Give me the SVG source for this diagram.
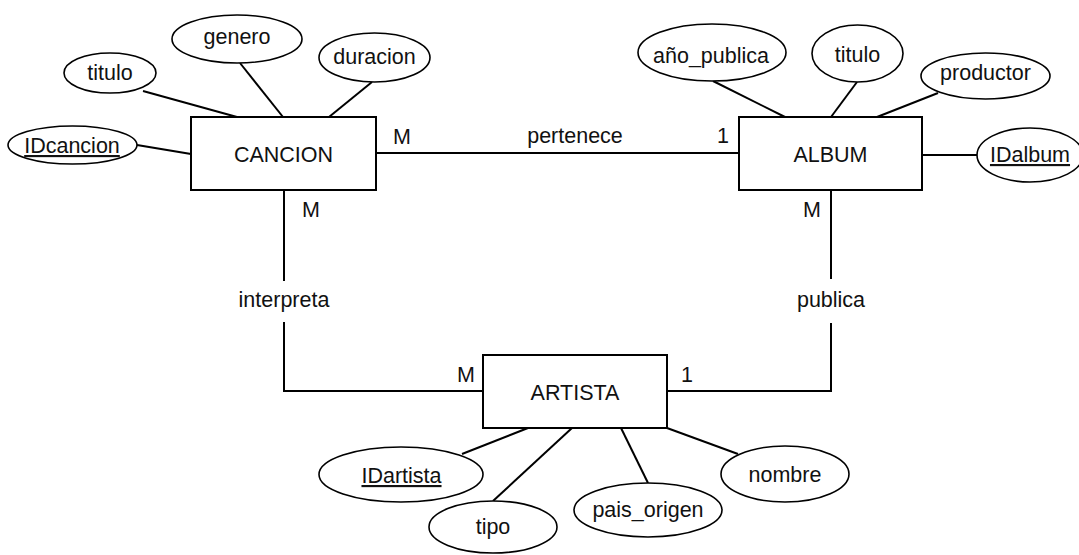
<svg xmlns="http://www.w3.org/2000/svg" width="1079" height="555" viewBox="0 0 1079 555">
  <style>
    .bg { fill: #ffffff; }
    .entity { fill: #ffffff; stroke: #000000; stroke-width: 2; }
    .attr { fill: #ffffff; stroke: #000000; stroke-width: 1.6; }
    .link { fill: none; stroke: #000000; stroke-width: 2; }
    text { font-family: "Liberation Sans", Arial, sans-serif; font-size: 21.5px; fill: #111111; text-anchor: middle; }
    .key { text-decoration: underline; }
    .card { text-anchor: start; }
  </style>
  <rect class="bg" x="0" y="0" width="1079" height="555"/>

  <!-- relationships, attribute links and cardinalities -->
  <g id="connectors">
    <path class="link" d="M376,153 H739"/>
    <path class="link" d="M284,190 V281 M284,322 V391 H483"/>
    <path class="link" d="M831,190 V279 M831,323 V391 H667"/>

    <path class="link" d="M143,91 L237,117"/>
    <path class="link" d="M240,63 L283,117"/>
    <path class="link" d="M372,82 L329,117"/>
    <path class="link" d="M137,145 L191,154"/>

    <path class="link" d="M713,81 L785,117"/>
    <path class="link" d="M857,82 L831,117"/>
    <path class="link" d="M938,93 L877,117"/>
    <path class="link" d="M922,155 L977,155"/>

    <path class="link" d="M528,428 L462,454"/>
    <path class="link" d="M572,428 L493,501"/>
    <path class="link" d="M621,428 L648,483"/>
    <path class="link" d="M667,428 L738,454"/>

    <text x="575" y="143">pertenece</text>
    <text x="284" y="307">interpreta</text>
    <text x="831" y="307">publica</text>

    <text class="card" x="393" y="144">M</text>
    <text class="card" x="717" y="143">1</text>
    <text class="card" x="302" y="217">M</text>
    <text class="card" x="803" y="217">M</text>
    <text class="card" x="457" y="382">M</text>
    <text class="card" x="681" y="382">1</text>
  </g>

  <!-- entities -->
  <g id="cancion">
    <rect class="entity" x="191" y="117" width="185" height="73"/>
    <text x="283.5" y="162">CANCION</text>
  </g>
  <g id="album">
    <rect class="entity" x="739" y="117" width="183" height="73"/>
    <text x="830.5" y="162">ALBUM</text>
  </g>
  <g id="artista">
    <rect class="entity" x="483" y="355" width="184" height="73"/>
    <text x="575" y="400">ARTISTA</text>
  </g>

  <!-- CANCION attributes -->
  <g id="cancion-titulo">
    <ellipse class="attr" cx="110" cy="73" rx="46" ry="20"/>
    <text x="110" y="80">titulo</text>
  </g>
  <g id="cancion-genero">
    <ellipse class="attr" cx="237" cy="39" rx="65" ry="24"/>
    <text x="237" y="44">genero</text>
  </g>
  <g id="cancion-duracion">
    <ellipse class="attr" cx="374.5" cy="57.5" rx="55.5" ry="24.5"/>
    <text x="374.5" y="64">duracion</text>
  </g>
  <g id="cancion-idcancion">
    <ellipse class="attr" cx="72.5" cy="145" rx="64.5" ry="19"/>
    <text class="key" x="72" y="153">IDcancion</text>
  </g>

  <!-- ALBUM attributes -->
  <g id="album-anio">
    <ellipse class="attr" cx="712" cy="52.5" rx="74" ry="28.5"/>
    <text x="711" y="63">año_publica</text>
  </g>
  <g id="album-titulo">
    <ellipse class="attr" cx="857.5" cy="53.5" rx="45.5" ry="28.5"/>
    <text x="857.5" y="62">titulo</text>
  </g>
  <g id="album-productor">
    <ellipse class="attr" cx="985.5" cy="76" rx="64.5" ry="23"/>
    <text x="985.5" y="80">productor</text>
  </g>
  <g id="album-idalbum">
    <ellipse class="attr" cx="1030" cy="155" rx="53" ry="27"/>
    <text class="key" x="1030" y="162">IDalbum</text>
  </g>

  <!-- ARTISTA attributes -->
  <g id="artista-idartista">
    <ellipse class="attr" cx="401" cy="474.5" rx="82" ry="27.5"/>
    <text class="key" x="401.5" y="483">IDartista</text>
  </g>
  <g id="artista-tipo">
    <ellipse class="attr" cx="493" cy="527" rx="64" ry="26"/>
    <text x="493" y="534">tipo</text>
  </g>
  <g id="artista-pais">
    <ellipse class="attr" cx="648" cy="510" rx="74" ry="27"/>
    <text x="648" y="517">pais_origen</text>
  </g>
  <g id="artista-nombre">
    <ellipse class="attr" cx="785" cy="474" rx="64" ry="28"/>
    <text x="785" y="482">nombre</text>
  </g>
</svg>
